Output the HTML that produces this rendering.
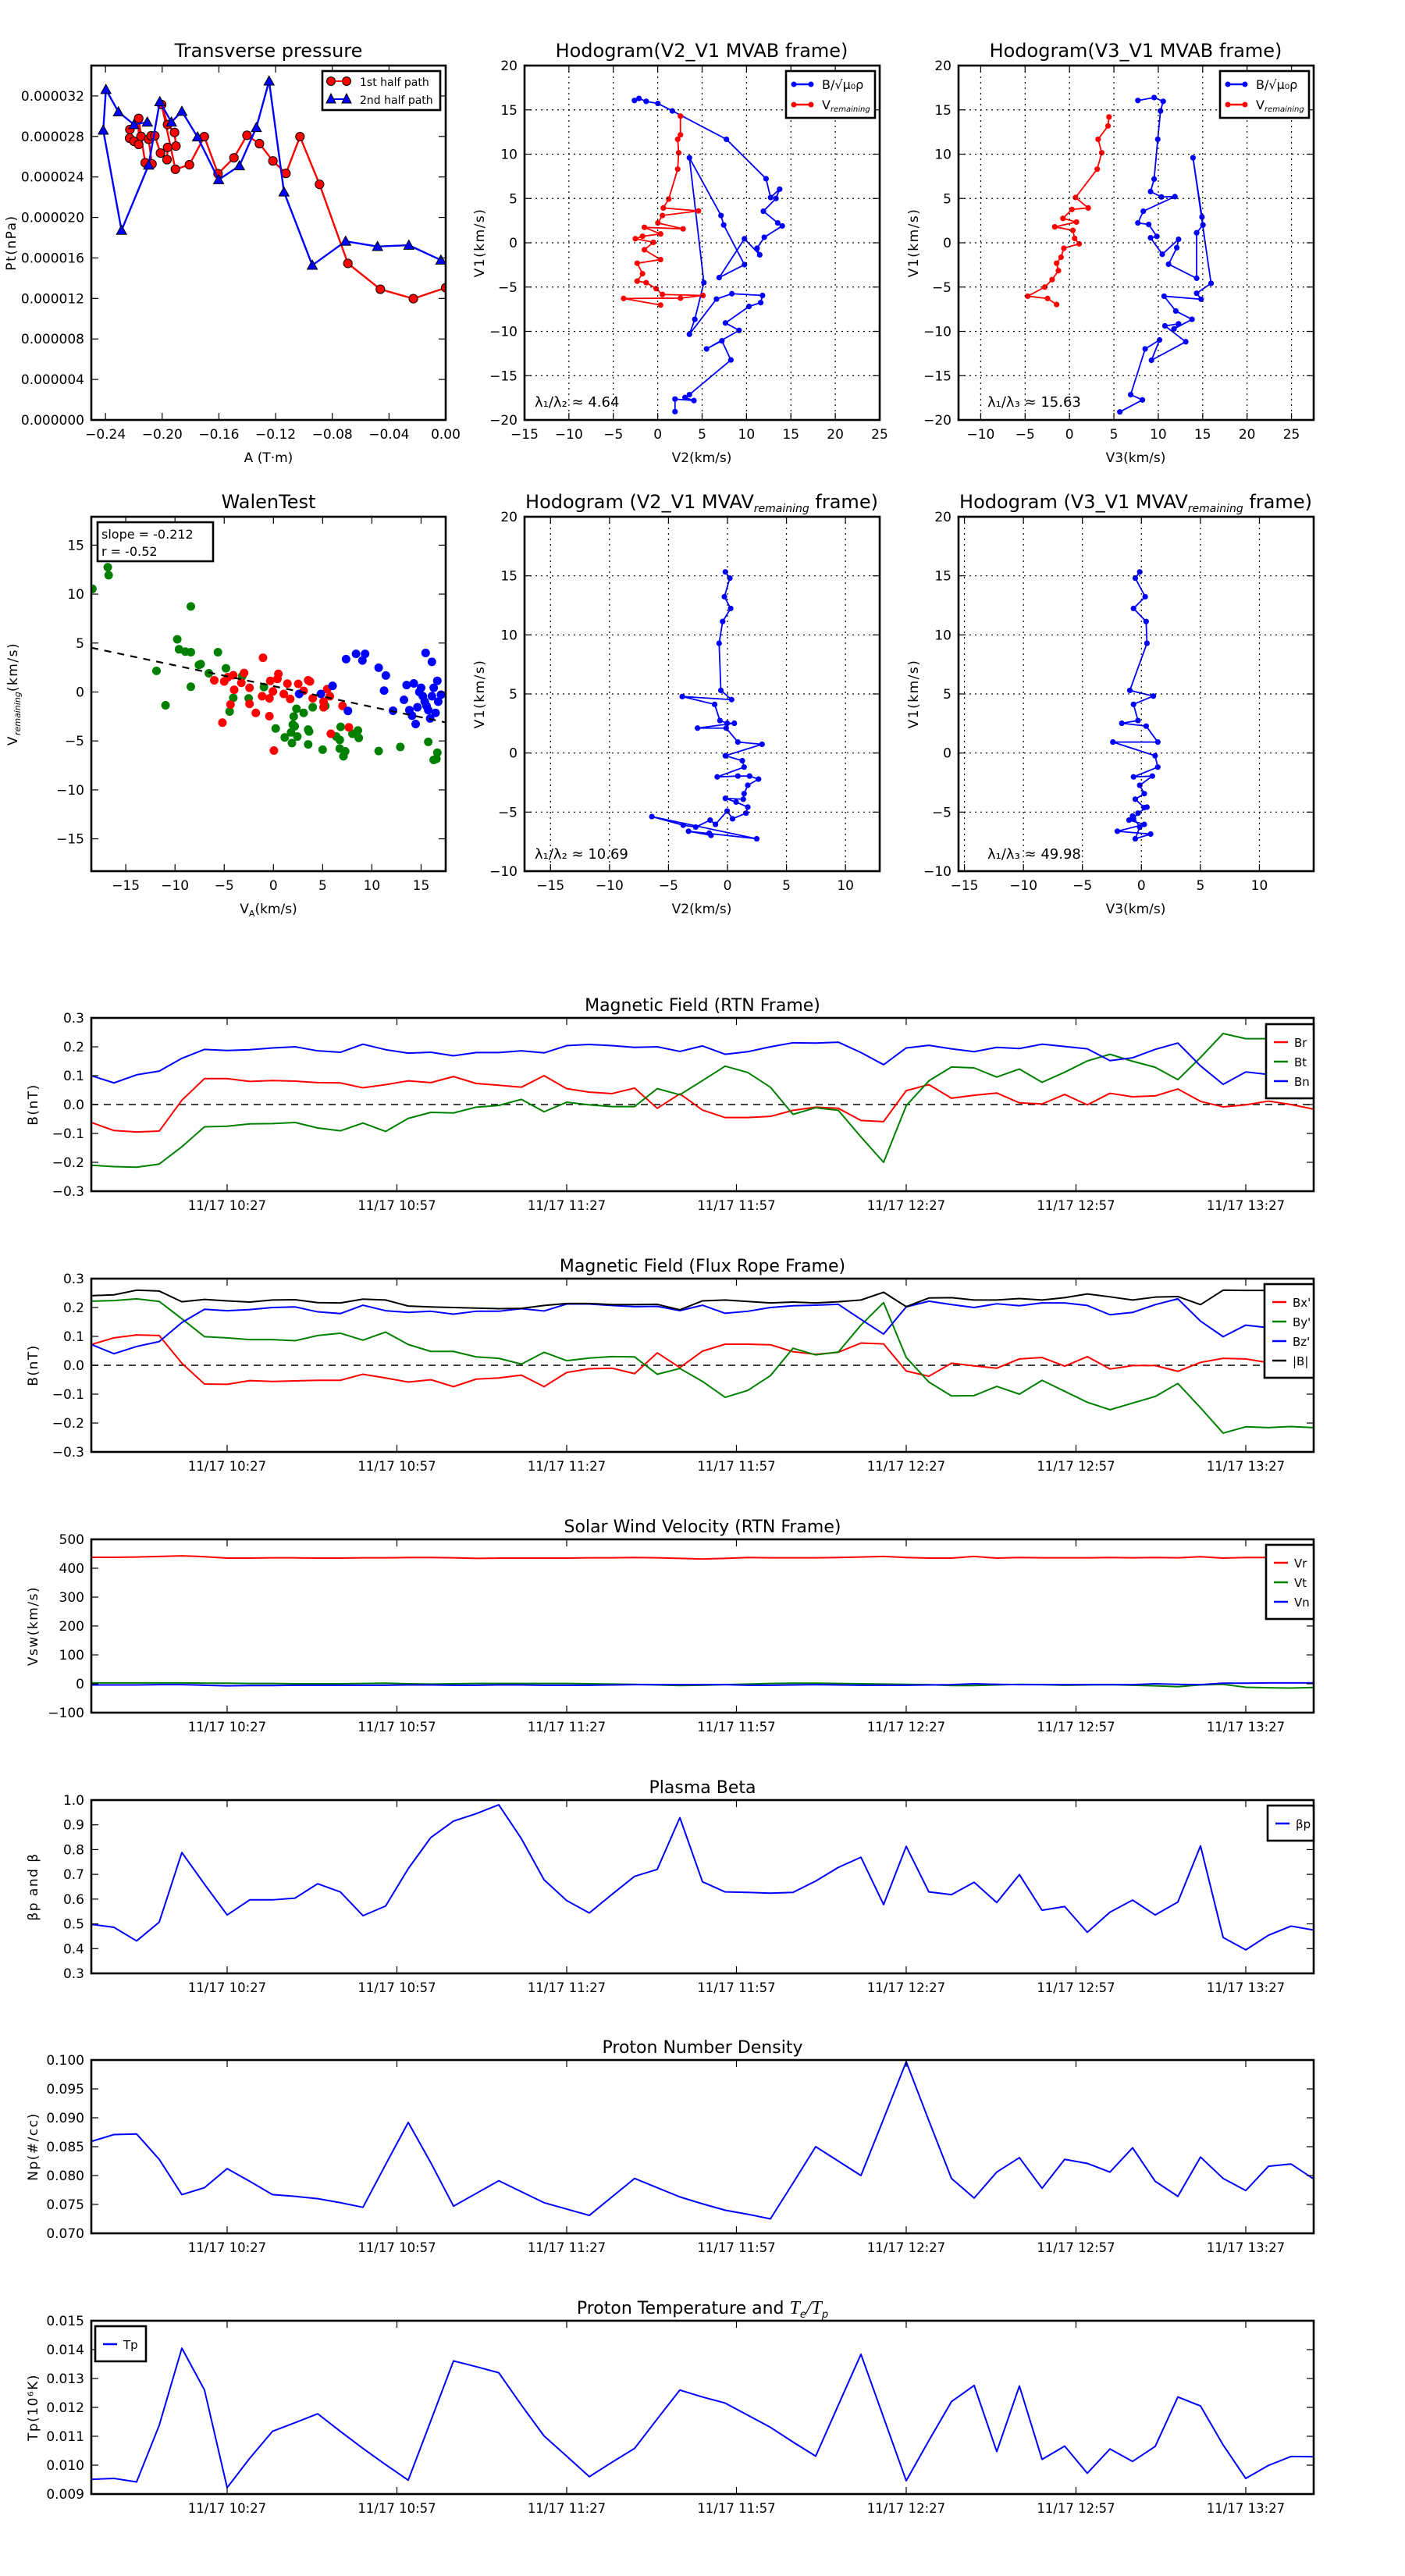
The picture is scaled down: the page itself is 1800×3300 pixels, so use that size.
<!DOCTYPE html>
<html><head><meta charset="utf-8"><title>Flux rope analysis</title>
<style>
html,body{margin:0;padding:0;background:#fff;}
svg{display:block;font-family:"DejaVu Sans","Liberation Sans",sans-serif;}
</style></head>
<body>
<svg id="fig" xmlns="http://www.w3.org/2000/svg" width="1800" height="3300" viewBox="0 0 1800 3300">
<rect x="0" y="0" width="1800" height="3300" fill="#fff"/>
<defs id="defs"></defs>
</svg>
<script>
// ---------- data: transverse pressure ----------
const ptA1 = [-0.2228,-0.2230,-0.2199,-0.2166,-0.2166,-0.2149,-0.2120,-0.2072,-0.2096,-0.2078,-0.2052,-0.2012,-0.1966,-0.1962,-0.1903,-0.1913,-0.1962,-0.2004,-0.1907,-0.1808,-0.1703,-0.1606,-0.1494,-0.1402,-0.1314,-0.1219,-0.1127,-0.1028,-0.0890,-0.0690,-0.0461,-0.0228,0.0];
const ptP1 = [2.868e-5,2.783e-5,2.752e-5,2.721e-5,2.978e-5,2.801e-5,2.540e-5,2.528e-5,2.772e-5,2.806e-5,2.806e-5,2.636e-5,2.571e-5,2.692e-5,2.705e-5,2.839e-5,2.917e-5,3.115e-5,2.476e-5,2.520e-5,2.798e-5,2.432e-5,2.589e-5,2.811e-5,2.729e-5,2.558e-5,2.435e-5,2.798e-5,2.327e-5,1.546e-5,1.291e-5,1.198e-5,1.306e-5];
const ptA2 = [-0.2105,-0.2199,-0.2309,-0.2397,-0.2416,-0.2287,-0.2096,-0.2017,-0.1935,-0.1861,-0.1751,-0.1602,-0.1455,-0.1336,-0.1246,-0.1141,-0.0941,-0.0706,-0.0481,-0.0260,-0.0034];
const ptP2 = [2.942e-5,2.917e-5,3.043e-5,3.264e-5,2.862e-5,1.873e-5,2.517e-5,3.143e-5,2.942e-5,3.048e-5,2.795e-5,2.373e-5,2.510e-5,2.888e-5,3.347e-5,2.252e-5,1.528e-5,1.765e-5,1.713e-5,1.726e-5,1.579e-5];
const ptXTicks = [-0.24,-0.20,-0.16,-0.12,-0.08,-0.04,0.00];
const ptXLabels = ["\u22120.24","\u22120.20","\u22120.16","\u22120.12","\u22120.08","\u22120.04","0.00"];
const ptYTicks = [0,4e-6,8e-6,12e-6,16e-6,20e-6,24e-6,28e-6,32e-6];
const ptYLabels = ["0.000000","0.000004","0.000008","0.000012","0.000016","0.000020","0.000024","0.000028","0.000032"];

// ---------- data: hodograms MVAB ----------
const hB2v2 = [-2.62,-2.11,-1.30,0.02,1.65,7.74,12.20,12.71,13.73,13.32,11.90,13.52,14.03,12.00,11.19,11.49,9.77,6.92,9.77,7.43,7.13,3.57,5.20,4.18,3.57,6.62,8.35,11.80,11.60,10.28,7.63,9.16,5.50,7.23,8.24,3.57,3.07,4.08,1.95,1.95];
const hB2v1 = [16.06,16.29,15.96,15.72,14.88,11.68,7.23,5.11,6.05,5.00,3.56,2.24,1.90,0.62,-0.62,-1.36,0.45,-3.93,-2.47,2.01,3.08,9.59,-4.50,-8.64,-10.33,-6.35,-5.75,-5.95,-6.76,-7.19,-9.05,-9.89,-11.98,-11.07,-13.23,-17.14,-17.47,-17.81,-17.64,-19.06];
const hV2v2 = [2.56,2.56,2.25,2.36,2.25,1.24,0.63,4.59,0.53,0.02,2.86,-1.50,0.32,-1.71,-2.52,-0.49,-1.50,0.32,-2.31,-1.71,-2.31,-1.30,-0.18,0.53,5.10,2.56,-3.84,0.32];
const hV2v1 = [14.30,12.18,11.68,10.16,8.31,4.94,3.93,3.59,3.08,2.24,1.57,1.74,1.00,0.73,0.46,0.05,-0.79,-1.90,-2.31,-3.49,-4.33,-4.50,-5.17,-5.84,-5.95,-6.25,-6.29,-7.03];
const hB3v3 = [7.70,9.53,10.55,10.25,9.94,9.53,9.13,10.35,11.87,8.31,7.70,8.92,9.84,9.13,10.45,12.28,12.08,11.16,14.32,14.32,15.03,14.92,13.91,15.94,14.32,14.82,10.65,11.97,13.80,11.77,12.28,10.75,13.09,9.23,10.14,8.52,6.89,8.21,5.67];
const hB3v1 = [16.06,16.39,15.96,14.88,11.68,7.19,5.78,5.17,5.21,3.56,2.24,2.07,0.72,0.56,-1.30,0.39,-0.56,-2.42,-4.01,1.13,2.01,2.91,9.59,-4.58,-5.70,-6.37,-6.03,-7.70,-8.64,-9.72,-9.15,-9.38,-11.17,-13.26,-10.97,-11.98,-17.14,-17.74,-19.09];
const hV3v3 = [4.45,4.34,3.22,3.63,3.12,0.68,2.11,0.27,-0.74,0.78,-1.66,0.38,0.58,1.09,-0.64,-0.95,-1.45,-1.25,-1.96,-2.78,-4.71,-2.47,-1.45];
const hV3v1 = [14.20,13.19,11.68,10.16,8.31,5.11,3.93,3.76,2.75,2.34,1.80,1.40,0.49,-0.12,-0.62,-1.63,-2.31,-3.15,-4.16,-5.00,-6.03,-6.29,-6.97];
const hodoTicks = [-20,-15,-10,-5,0,5,10,15,20];
const hodo2XTicks = [-15,-10,-5,0,5,10,15,20,25];
const hodo3XTicks = [-10,-5,0,5,10,15,20,25];

// ---------- data: Walen test ----------
const walGx = [-18.39,-16.83,-16.74,-8.39,-9.77,-9.59,-8.95,-8.39,-5.64,-7.39,-7.57,-11.88,-4.82,-6.56,-3.17,-8.39,-10.96,-4.08,-2.52,-4.45,-0.96,2.34,2.06,3.99,3.07,0.23,1.97,2.16,1.79,1.15,2.43,3.53,3.62,3.53,1.88,5.00,6.83,6.38,6.74,6.74,7.29,7.11,8.03,8.58,8.67,10.69,12.89,15.73,16.65,16.56,16.28,5.27];
const walGy = [10.53,12.75,11.93,8.74,5.38,4.36,4.13,4.07,4.07,2.85,2.76,2.16,2.42,1.91,1.62,0.54,-1.36,-0.60,-0.65,-1.99,0.51,-1.71,-2.50,-1.56,-2.13,-3.73,-3.33,-3.50,-4.13,-4.64,-4.55,-3.84,-4.04,-5.35,-5.21,-5.89,-3.56,-4.55,-4.89,-5.78,-6.06,-6.57,-4.27,-3.93,-4.69,-6.03,-5.61,-5.09,-6.20,-6.83,-6.94,-1.42];
const walRx = [-1.06,-2.98,-4.08,-4.63,-6.01,-5.00,-3.99,-3.26,-2.43,-2.43,-4.36,-1.79,-0.41,-0.05,-1.15,-0.41,0.50,0.41,1.42,2.52,3.53,3.07,1.70,3.99,5.46,5.09,5.09,5.73,7.02,5.83,7.66,0.05,-5.18,3.71,-0.32,1.05];
const walRy = [3.50,1.94,1.71,1.51,1.20,1.08,0.23,0.94,0.43,-1.22,-1.28,-2.13,-2.47,0.06,-0.43,-0.65,1.85,1.34,0.86,0.83,1.20,0.12,-0.71,-0.65,0.29,-0.99,-1.56,-0.43,-1.42,-4.27,-3.61,-5.98,-3.13,1.08,1.14,-0.20];
const walBx = [7.38,8.39,9.31,9.04,10.69,11.42,6.01,4.82,2.61,7.57,11.24,12.15,13.26,13.53,14.26,15.00,15.46,16.10,16.65,17.84,14.63,15.18,15.55,14.08,14.45,15.92,16.47,16.74,14.82,16.10,15.37,13.81,17.02,15.73,16.28];
const walBy = [3.36,3.90,3.90,3.22,2.48,1.68,0.63,-0.20,-0.20,-1.93,0.14,-1.91,-0.80,0.71,0.88,0.43,3.99,3.08,1.14,1.77,-1.56,-0.43,-1.42,-2.42,-3.27,-2.70,-2.13,-0.99,0.00,-0.43,-0.99,-1.85,-0.28,-1.85,0.43];
const walSlope = -0.212;
const walIntercept = 0.6;
const walTicks = [-15,-10,-5,0,5,10,15];

// ---------- data: hodograms MVAV ----------
const hR2v2 = [-0.18,0.20,-0.26,0.27,-0.41,-0.71,-0.56,0.35,-3.83,-1.09,-0.64,-0.03,0.58,-2.54,-0.11,0.88,2.93,-0.18,1.26,1.41,-0.87,0.88,1.87,2.63,1.72,1.41,1.34,-0.18,0.73,1.72,1.57,0.43,-0.03,-1.02,-1.47,-2.69,-3.75,-6.41,2.48,-3.30,-1.40,-1.55];
const hR2v1 = [15.33,14.81,13.23,12.24,11.13,9.29,5.30,4.52,4.78,4.12,2.75,2.52,2.52,2.11,2.11,0.93,0.74,-0.23,-0.65,-1.19,-2.02,-1.95,-1.95,-2.21,-2.73,-3.44,-3.91,-3.84,-4.15,-4.58,-5.09,-5.57,-4.91,-6.04,-5.68,-6.27,-6.11,-5.38,-7.26,-6.62,-6.97,-6.78];
const hR3v3 = [-0.14,-0.52,0.32,-0.67,0.40,0.47,-0.98,1.01,-0.67,-0.29,-1.66,0.40,1.39,-2.42,1.16,1.39,-0.67,0.93,-0.14,0.24,-0.52,0.24,0.47,-0.29,-0.67,-1.05,0.24,-2.04,0.78,-0.52,-0.14,-0.75];
const hR3v1 = [15.33,14.81,13.23,12.24,11.13,9.29,5.30,4.82,4.12,2.75,2.52,2.28,0.93,0.93,-0.23,-1.19,-2.02,-1.95,-2.73,-3.44,-3.91,-4.62,-4.58,-5.09,-5.57,-5.68,-6.04,-6.62,-6.86,-7.26,-6.27,-5.33];
const hodoR2YTicks = [-10,-5,0,5,10,15,20];
const hodoR2XTicks = [-15,-10,-5,0,5,10];

// ---------- data: time series (4-min cadence from 10:03) ----------
const tStartMin = 603; // 10:03
const tStepMin = 4;
const timeTickLabels = ["11/17 10:27","11/17 10:57","11/17 11:27","11/17 11:57","11/17 12:27","11/17 12:57","11/17 13:27"];
const timeTickMins = [627,657,687,717,747,777,807];
const Br = [-0.062,-0.09,-0.095,-0.092,0.015,0.09,0.09,0.08,0.083,0.081,0.076,0.075,0.058,0.069,0.082,0.076,0.097,0.073,0.067,0.06,0.1,0.055,0.043,0.038,0.057,-0.013,0.037,-0.019,-0.045,-0.045,-0.041,-0.02,-0.009,-0.013,-0.055,-0.059,0.048,0.069,0.022,0.032,0.04,0.006,0.002,0.035,-0.001,0.039,0.027,0.03,0.054,0.011,-0.008,-0.001,0.012,0,-0.016];
const Bt = [-0.21,-0.215,-0.217,-0.206,-0.146,-0.077,-0.075,-0.067,-0.066,-0.062,-0.081,-0.091,-0.064,-0.093,-0.048,-0.027,-0.029,-0.009,-0.003,0.018,-0.025,0.008,-0.001,-0.007,-0.007,0.055,0.034,0.083,0.133,0.111,0.06,-0.034,-0.011,-0.02,-0.112,-0.2,-0.004,0.082,0.13,0.127,0.095,0.123,0.077,0.112,0.151,0.174,0.15,0.129,0.086,0.163,0.246,0.228,0.228,0.227,0.227];
const Bn = [0.1,0.075,0.103,0.116,0.16,0.191,0.187,0.19,0.196,0.2,0.186,0.181,0.209,0.19,0.178,0.181,0.169,0.18,0.18,0.186,0.179,0.204,0.208,0.204,0.198,0.2,0.184,0.203,0.174,0.183,0.2,0.214,0.213,0.216,0.18,0.138,0.196,0.205,0.193,0.183,0.198,0.194,0.209,0.201,0.193,0.152,0.162,0.191,0.213,0.134,0.07,0.113,0.104,0.09,0.087];
const Bx = [0.072,0.095,0.105,0.103,0.007,-0.065,-0.066,-0.053,-0.056,-0.054,-0.052,-0.052,-0.031,-0.044,-0.058,-0.05,-0.074,-0.048,-0.044,-0.034,-0.074,-0.025,-0.012,-0.01,-0.029,0.043,-0.008,0.049,0.073,0.073,0.071,0.047,0.038,0.045,0.077,0.074,-0.02,-0.038,0.007,-0.002,-0.01,0.022,0.027,-0.003,0.03,-0.013,-0.001,-0.001,-0.021,0.01,0.024,0.022,0.009,0.02,0.034];
const By = [0.222,0.224,0.23,0.221,0.161,0.099,0.095,0.089,0.089,0.085,0.103,0.111,0.087,0.115,0.072,0.048,0.048,0.029,0.024,0.004,0.045,0.016,0.025,0.03,0.029,-0.031,-0.011,-0.056,-0.111,-0.087,-0.036,0.059,0.036,0.046,0.139,0.217,0.027,-0.058,-0.106,-0.105,-0.073,-0.1,-0.052,-0.09,-0.128,-0.154,-0.131,-0.108,-0.063,-0.147,-0.235,-0.213,-0.216,-0.212,-0.216];
const Bz = [0.072,0.04,0.065,0.082,0.148,0.194,0.189,0.193,0.2,0.202,0.185,0.179,0.208,0.189,0.183,0.187,0.177,0.187,0.187,0.196,0.188,0.212,0.212,0.207,0.203,0.204,0.189,0.208,0.18,0.187,0.2,0.206,0.208,0.211,0.159,0.108,0.202,0.222,0.21,0.2,0.213,0.206,0.216,0.216,0.207,0.175,0.183,0.21,0.23,0.153,0.099,0.139,0.13,0.119,0.108];
const Bmag = [0.241,0.244,0.26,0.257,0.22,0.228,0.223,0.219,0.226,0.227,0.217,0.216,0.229,0.226,0.205,0.202,0.2,0.198,0.196,0.197,0.207,0.214,0.214,0.21,0.21,0.211,0.192,0.223,0.226,0.221,0.216,0.219,0.216,0.22,0.226,0.253,0.203,0.233,0.234,0.226,0.226,0.231,0.226,0.234,0.247,0.237,0.226,0.236,0.238,0.21,0.26,0.259,0.259,0.259,0.259];
const Vr = [438,438,439,441,443,440,435,435,436,436,435,435,436,436,437,437,436,434,435,435,435,435,436,436,437,436,434,432,434,437,436,436,436,437,439,441,437,435,435,441,435,437,436,436,436,437,436,437,436,440,435,437,437,436,436];
const Vt = [3,3,3,3,3,2,2,1,1,0,0,0,1,2,0,-1,0,1,1,1,1,1,0,-1,-2,-4,-6,-5,-3,-1,1,2,2,1,0,-1,-2,-3,-6,-6,-4,-2,-3,-5,-4,-3,-5,-7,-10,-4,-2,-12,-14,-15,-13];
const Vn = [-4,-4,-4,-3,-3,-5,-7,-6,-6,-5,-5,-5,-5,-5,-4,-4,-5,-5,-4,-4,-5,-5,-5,-4,-3,-3,-3,-3,-3,-5,-5,-4,-3,-4,-5,-5,-5,-4,-3,0,-2,-3,-3,-3,-3,-3,-3,0,-2,-3,2,2,3,3,3];
const betaP = [0.498,0.486,0.431,0.507,0.788,0.66,0.536,0.597,0.597,0.604,0.662,0.629,0.533,0.572,0.723,0.849,0.915,0.945,0.981,0.844,0.678,0.594,0.544,0.619,0.692,0.72,0.929,0.67,0.629,0.627,0.624,0.627,0.673,0.728,0.769,0.578,0.813,0.629,0.618,0.668,0.586,0.699,0.555,0.57,0.466,0.547,0.596,0.536,0.588,0.815,0.445,0.395,0.454,0.491,0.475];
const Np = [0.0859,0.0871,0.0872,0.0828,0.0767,0.0779,0.0812,0.079,0.0767,0.0764,0.076,0.0753,0.0745,0.0819,0.0892,0.0822,0.0747,0.0769,0.0791,0.0772,0.0753,0.0742,0.0731,0.0763,0.0795,0.0779,0.0763,0.0751,0.074,0.0733,0.0725,0.0787,0.085,0.0825,0.08,0.0898,0.0997,0.0895,0.0795,0.0761,0.0806,0.0831,0.0778,0.0828,0.0821,0.0806,0.0848,0.079,0.0764,0.0832,0.0795,0.0774,0.0816,0.082,0.0794];
const Tp = [0.00951,0.00954,0.00942,0.01138,0.01405,0.0126,0.00922,0.01024,0.01117,0.01147,0.01178,0.01117,0.01058,0.01002,0.00948,0.01154,0.01361,0.01341,0.0132,0.01208,0.01101,0.01031,0.0096,0.0101,0.01058,0.0116,0.0126,0.01236,0.01215,0.01173,0.01131,0.0108,0.01031,0.01208,0.01384,0.01165,0.00946,0.01085,0.0122,0.01276,0.01047,0.01274,0.0102,0.01066,0.00972,0.01056,0.01013,0.01065,0.01236,0.01205,0.0107,0.00954,0.00999,0.0103,0.01029];
const bYTicks = [-0.3,-0.2,-0.1,0.0,0.1,0.2,0.3];
const bYLabels = ["\u22120.3","\u22120.2","\u22120.1","0.0","0.1","0.2","0.3"];
const vYTicks = [-100,0,100,200,300,400,500];
const vYLabels = ["\u2212100","0","100","200","300","400","500"];
const betaYTicks = [0.3,0.4,0.5,0.6,0.7,0.8,0.9,1.0];
const betaYLabels = ["0.3","0.4","0.5","0.6","0.7","0.8","0.9","1.0"];
const npYTicks = [0.070,0.075,0.080,0.085,0.090,0.095,0.100];
const npYLabels = ["0.070","0.075","0.080","0.085","0.090","0.095","0.100"];
const tpYTicks = [0.009,0.010,0.011,0.012,0.013,0.014,0.015];
const tpYLabels = ["0.009","0.010","0.011","0.012","0.013","0.014","0.015"];

// ---------- drawing helpers ----------
const NS = 'http://www.w3.org/2000/svg';
const svg = document.getElementById('fig');
const defs = document.getElementById('defs');
let clipCount = 0;
function mk(tag, attrs, parent) {
  const e = document.createElementNS(NS, tag);
  for (const k in attrs) e.setAttribute(k, attrs[k]);
  (parent || svg).appendChild(e);
  return e;
}
function txt(parent, x, y, str, size, anchor, name, extra) {
  const t = mk('text', Object.assign({x: x, y: y, 'font-size': size, 'text-anchor': anchor || 'middle', fill: '#000'}, extra || {}), parent);
  t.textContent = str;
  
  
  return t;
}
function axes(name, L, T, W, H, x0, x1, y0, y1) {
  const g = mk('g', {});
  
  
  const id = 'clip' + (clipCount++);
  const cp = mk('clipPath', {id: id}, defs);
  mk('rect', {x: L, y: T, width: W, height: H}, cp);
  const plot = mk('g', {'clip-path': 'url(#' + id + ')'}, g);
  
  
  return {g: g, plot: plot, L: L, T: T, W: W, H: H, name: name,
    sx: v => L + (v - x0) / (x1 - x0) * W,
    sy: v => T + H - (v - y0) / (y1 - y0) * H};
}
function frame(ax) {
  const r = mk('rect', {x: ax.L, y: ax.T, width: ax.W, height: ax.H, fill: 'none', stroke: '#000', 'stroke-width': 2.6}, ax.g);
  
  
}
function xTicks(ax, vals, labels, grid, fs) {
  vals.forEach((v, i) => {
    const x = ax.sx(v);
    if (x < ax.L - 0.5 || x > ax.L + ax.W + 0.5) return;
    if (grid) {
      const gl = mk('line', {x1: x, y1: ax.T, x2: x, y2: ax.T + ax.H, stroke: '#000', 'stroke-width': 1.2, 'stroke-dasharray': '2,5'}, ax.g);
      
      
    }
    const t1 = mk('line', {x1: x, y1: ax.T + ax.H, x2: x, y2: ax.T + ax.H - 9, stroke: '#000', 'stroke-width': 1.2}, ax.g);
    
    
    const t2 = mk('line', {x1: x, y1: ax.T, x2: x, y2: ax.T + 9, stroke: '#000', 'stroke-width': 1.2}, ax.g);
    
    
    if (labels) txt(ax.g, x, ax.T + ax.H + 24, labels[i], fs || 17, 'middle', 'x-tick-label');
  });
}
function yTicks(ax, vals, labels, grid, fs) {
  vals.forEach((v, i) => {
    const y = ax.sy(v);
    if (y < ax.T - 0.5 || y > ax.T + ax.H + 0.5) return;
    if (grid) {
      const gl = mk('line', {x1: ax.L, y1: y, x2: ax.L + ax.W, y2: y, stroke: '#000', 'stroke-width': 1.2, 'stroke-dasharray': '2,5'}, ax.g);
      
      
    }
    const t1 = mk('line', {x1: ax.L, y1: y, x2: ax.L + 9, y2: y, stroke: '#000', 'stroke-width': 1.2}, ax.g);
    
    
    const t2 = mk('line', {x1: ax.L + ax.W, y1: y, x2: ax.L + ax.W - 9, y2: y, stroke: '#000', 'stroke-width': 1.2}, ax.g);
    
    
    txt(ax.g, ax.L - 9, y + 6, labels ? labels[i] : String(v).replace('-', '\u2212'), fs || 17, 'end', 'y-tick-label');
  });
}
function line(ax, xs, ys, color, name, w) {
  const pts = xs.map((x, i) => ax.sx(x).toFixed(2) + ',' + ax.sy(ys[i]).toFixed(2)).join(' ');
  const p = mk('polyline', {points: pts, fill: 'none', stroke: color, 'stroke-width': w || 2, 'stroke-linejoin': 'round'}, ax.plot);
  
  
  return p;
}
function dots(ax, xs, ys, color, name, r, edge) {
  const g = mk('g', {}, ax.plot);
  
  
  xs.forEach((x, i) => {
    const c = mk('circle', {cx: ax.sx(x), cy: ax.sy(ys[i]), r: r, fill: color, stroke: edge || color, 'stroke-width': edge ? 1 : 0}, g);
    
    
  });
}
function tris(ax, xs, ys, color, name, s) {
  const g = mk('g', {}, ax.plot);
  
  
  xs.forEach((x, i) => {
    const cx = ax.sx(x), cy = ax.sy(ys[i]);
    const p = mk('polygon', {points: cx + ',' + (cy - s) + ' ' + (cx - s) + ',' + (cy + s * 0.8) + ' ' + (cx + s) + ',' + (cy + s * 0.8), fill: color, stroke: '#000', 'stroke-width': 1}, g);
    
    
  });
}
function ylabel(x, y, str, name, size) {
  const t = txt(svg, x, y, str, size || 17, 'middle', name, {transform: 'rotate(-90 ' + x + ' ' + y + ')', 'letter-spacing': '1.5'});
  return t;
}
function legendBox(x, y, w, h, name) {
  const g = mk('g', {});
  
  
  const r = mk('rect', {x: x, y: y, width: w, height: h, fill: '#fff', stroke: '#000', 'stroke-width': 2.6}, g);
  
  
  return g;
}
function legLine(g, x, y, color, label, name, marks) {
  const l = mk('line', {x1: x, y1: y, x2: x + 22, y2: y, stroke: color, 'stroke-width': 2.4}, g);
  
  
  if (marks) {
    [x, x + 22].forEach(mx => {
      const c = mk('circle', {cx: mx, cy: y, r: 3.5, fill: color}, g);
      
      
    });
  }
  return txt(g, x + 36, y + 6, label, 16, 'start', name + '-label');
}

// ---------- Row 1 ----------
const a1 = axes('transverse-pressure-chart', 117, 84, 454, 454, -0.25, 0, 0, 3.5e-5);
line(a1, ptA1, ptP1, '#f00', 'first-half-path-line', 2.4);
dots(a1, ptA1, ptP1, '#f00', 'first-half-path-points', 5.6, '#000');
line(a1, ptA2, ptP2, '#00f', 'second-half-path-line', 2.4);
tris(a1, ptA2, ptP2, '#00f', 'second-half-path-points', 6.5);
xTicks(a1, ptXTicks, ptXLabels, false);
yTicks(a1, ptYTicks, ptYLabels, false);
frame(a1);
txt(svg, 344, 73, 'Transverse pressure', 24, 'middle', 'pressure-chart-title');
txt(svg, 344, 592, 'A (T\u00b7m)', 17, 'middle', 'pressure-x-axis-title');
ylabel(20, 311, 'Pt(nPa)', 'pressure-y-axis-title');
{
  const lg = legendBox(413, 91, 151, 50, 'pressure-legend');
  const l1 = mk('line', {x1: 424, y1: 104, x2: 444, y2: 104, stroke: '#f00', 'stroke-width': 2}, lg);
  
  
  [424, 444].forEach(cx => { const c = mk('circle', {cx: cx, cy: 104, r: 5.5, fill: '#f00', stroke: '#000', 'stroke-width': 1}, lg);   });
  txt(lg, 461, 110, '1st half path', 14, 'start', 'legend-first-half-label');
  const l2 = mk('line', {x1: 424, y1: 127, x2: 444, y2: 127, stroke: '#00f', 'stroke-width': 2}, lg);
  
  
  [424, 444].forEach(cx => { const p = mk('polygon', {points: cx + ',' + 120 + ' ' + (cx - 6) + ',' + 132 + ' ' + (cx + 6) + ',' + 132, fill: '#00f', stroke: '#000', 'stroke-width': 1}, lg);   });
  txt(lg, 461, 133, '2nd half path', 14, 'start', 'legend-second-half-label');
}

function hodoLegend(x, name) {
  const lg = legendBox(x, 91, 114, 60, name);
  legLine(lg, x + 10, 108, '#00f', 'B/\u221A\u03BC\u2080\u03C1', name + '-b-entry', true);
  legLine(lg, x + 10, 134, '#f00', 'V_remaining', name + '-v-entry', true);
  const t = lg.lastChild;
  t.textContent = 'V';
  const s = mk('tspan', {'font-size': 10, 'font-style': 'italic', dy: 3}, t);
  s.textContent = 'remaining';
  
  
}

const a2 = axes('hodogram-v2-v1-mvab', 672, 84, 455, 454, -15, 25, -20, 20);
xTicks(a2, hodo2XTicks, hodo2XTicks.map(v => String(v).replace('-', '\u2212')), true);
yTicks(a2, hodoTicks, hodoTicks.map(v => String(v).replace('-', '\u2212')), true);
line(a2, hB2v2, hB2v1, '#00f', 'b-hodogram-line', 1.8);
dots(a2, hB2v2, hB2v1, '#00f', 'b-hodogram-points', 3.6);
line(a2, hV2v2, hV2v1, '#f00', 'v-hodogram-line', 1.8);
dots(a2, hV2v2, hV2v1, '#f00', 'v-hodogram-points', 3.6);
frame(a2);
hodoLegend(1007, 'hodogram-v2-legend');
txt(svg, 899, 73, 'Hodogram(V2_V1 MVAB frame)', 24, 'middle', 'hodogram-v2-title');
txt(svg, 899, 592, 'V2(km/s)', 17, 'middle', 'hodogram-v2-x-axis-title');
ylabel(620, 311, 'V1(km/s)', 'hodogram-v2-y-axis-title');
txt(svg, 685, 521, '\u03BB\u2081/\u03BB\u2082 \u2248 4.64', 18, 'start', 'hodogram-v2-eigen-ratio');

const a3 = axes('hodogram-v3-v1-mvab', 1228, 84, 455, 454, -12.5, 27.5, -20, 20);
xTicks(a3, hodo3XTicks, hodo3XTicks.map(v => String(v).replace('-', '\u2212')), true);
yTicks(a3, hodoTicks, hodoTicks.map(v => String(v).replace('-', '\u2212')), true);
line(a3, hB3v3, hB3v1, '#00f', 'b-hodogram-line', 1.8);
dots(a3, hB3v3, hB3v1, '#00f', 'b-hodogram-points', 3.6);
line(a3, hV3v3, hV3v1, '#f00', 'v-hodogram-line', 1.8);
dots(a3, hV3v3, hV3v1, '#f00', 'v-hodogram-points', 3.6);
frame(a3);
hodoLegend(1563, 'hodogram-v3-legend');
txt(svg, 1455, 73, 'Hodogram(V3_V1 MVAB frame)', 24, 'middle', 'hodogram-v3-title');
txt(svg, 1455, 592, 'V3(km/s)', 17, 'middle', 'hodogram-v3-x-axis-title');
ylabel(1176, 311, 'V1(km/s)', 'hodogram-v3-y-axis-title');
txt(svg, 1265, 521, '\u03BB\u2081/\u03BB\u2083 \u2248 15.63', 18, 'start', 'hodogram-v3-eigen-ratio');

// ---------- Row 2 ----------
const w1 = axes('walen-test-chart', 117, 662, 454, 454, -18.5, 17.5, -18.3, 17.9);
dots(w1, walGx, walGy, '#008000', 'walen-green-points', 5.5);
dots(w1, walRx, walRy, '#f00', 'walen-red-points', 5.5);
dots(w1, walBx, walBy, '#00f', 'walen-blue-points', 5.5);
{
  const fx = [-18.5, 17.5];
  const fy = fx.map(v => walSlope * v + walIntercept);
  const fl = line(w1, fx, fy, '#000', 'walen-fit-line', 2.2);
  fl.setAttribute('stroke-dasharray', '9,8');
}
xTicks(w1, walTicks, walTicks.map(v => String(v).replace('-', '\u2212')), false);
yTicks(w1, walTicks, walTicks.map(v => String(v).replace('-', '\u2212')), false);
frame(w1);
{
  const g = legendBox(125, 669, 148, 50, 'walen-stats-box');
  txt(g, 130, 690, 'slope = -0.212', 16, 'start', 'walen-slope-text');
  txt(g, 130, 712, 'r = -0.52', 16, 'start', 'walen-r-text');
}
txt(svg, 344, 651, 'WalenTest', 24, 'middle', 'walen-title');
{
  const t = txt(svg, 344, 1170, 'V', 17, 'middle', 'walen-x-axis-title');
  const s = mk('tspan', {'font-size': 11, dy: 4}, t); s.textContent = 'A';
   
  const s2 = mk('tspan', {dy: -4}, t); s2.textContent = '(km/s)';
   
}
{
  const t = ylabel(22, 889, 'V', 'walen-y-axis-title');
  const s = mk('tspan', {'font-size': 11, 'font-style': 'italic', dy: 4, 'letter-spacing': 0}, t); s.textContent = 'remaining';
   
  const s2 = mk('tspan', {dy: -4}, t); s2.textContent = '(km/s)';
   
}

function mvavTitle(x, str, name) {
  const t = txt(svg, x, 651, str, 24, 'middle', name);
  const s = mk('tspan', {'font-size': 14, 'font-style': 'italic', dy: 5}, t); s.textContent = 'remaining';
   
  const s2 = mk('tspan', {dy: -5}, t); s2.textContent = ' frame)';
   
}
const r2 = axes('hodogram-v2-v1-mvav', 672, 662, 455, 454, -17.2, 12.9, -10, 20);
xTicks(r2, hodoR2XTicks, hodoR2XTicks.map(v => String(v).replace('-', '\u2212')), true);
yTicks(r2, hodoR2YTicks, hodoR2YTicks.map(v => String(v).replace('-', '\u2212')), true);
line(r2, hR2v2, hR2v1, '#00f', 'mvav-v2-line', 1.8);
dots(r2, hR2v2, hR2v1, '#00f', 'mvav-v2-points', 3.6);
frame(r2);
mvavTitle(899, 'Hodogram (V2_V1 MVAV', 'hodogram-mvav-v2-title');
txt(svg, 899, 1170, 'V2(km/s)', 17, 'middle', 'mvav-v2-x-axis-title');
ylabel(620, 889, 'V1(km/s)', 'mvav-v2-y-axis-title');
txt(svg, 685, 1100, '\u03BB\u2081/\u03BB\u2082 \u2248 10.69', 18, 'start', 'mvav-v2-eigen-ratio');

const r3 = axes('hodogram-v3-v1-mvav', 1228, 662, 455, 454, -15.5, 14.6, -10, 20);
xTicks(r3, hodoR2XTicks, hodoR2XTicks.map(v => String(v).replace('-', '\u2212')), true);
yTicks(r3, hodoR2YTicks, hodoR2YTicks.map(v => String(v).replace('-', '\u2212')), true);
line(r3, hR3v3, hR3v1, '#00f', 'mvav-v3-line', 1.8);
dots(r3, hR3v3, hR3v1, '#00f', 'mvav-v3-points', 3.6);
frame(r3);
mvavTitle(1455, 'Hodogram (V3_V1 MVAV', 'hodogram-mvav-v3-title');
txt(svg, 1455, 1170, 'V3(km/s)', 17, 'middle', 'mvav-v3-x-axis-title');
ylabel(1176, 889, 'V1(km/s)', 'mvav-v3-y-axis-title');
txt(svg, 1265, 1100, '\u03BB\u2081/\u03BB\u2083 \u2248 49.98', 18, 'start', 'mvav-v3-eigen-ratio');

// ---------- Time series ----------
const tMins = Br.map((_, i) => tStartMin + i * tStepMin);
const tEnd = tStartMin + (Br.length - 1) * tStepMin;
const TS_L = 117, TS_W = 1566, TS_H = 222;
const tops = [1304, 1638, 1972, 2306, 2639, 2973];
function tsAxes(name, top, y0, y1, yt, yl, title, ylab) {
  const ax = axes(name, TS_L, top, TS_W, TS_H, tStartMin, tEnd, y0, y1);
  xTicks(ax, timeTickMins, timeTickLabels, false, 16.5);
  yTicks(ax, yt, yl, false, 17);
  txt(svg, TS_L + TS_W / 2, top - 9, title, 22, 'middle', name + '-title');
  ylabel(48, top + TS_H / 2, ylab, name + '-y-axis-title');
  return ax;
}
function zeroLine(ax) {
  const z = line(ax, [tStartMin, tEnd], [0, 0], '#000', 'zero-reference-line', 1.6);
  z.setAttribute('stroke-dasharray', '9,7');
}
function tsLegend(x, y, w, entries, name) {
  const g = legendBox(x, y, w, 20 + entries.length * 25, name);
  entries.forEach((e, i) => legLine(g, x + 10, y + 23 + i * 25, e[0], e[1], name + '-' + e[1].replace(/[^A-Za-z]/g, '').toLowerCase() + '-entry'));
  g.querySelectorAll('line').forEach(l => { l.setAttribute('x2', Number(l.getAttribute('x1')) + 18); });
  g.querySelectorAll('text').forEach(t => { t.setAttribute('x', x + 36); t.setAttribute('font-size', 15); });
  return g;
}

const m1 = tsAxes('magnetic-field-rtn-chart', tops[0], -0.3, 0.3, bYTicks, bYLabels, 'Magnetic Field (RTN Frame)', 'B(nT)');
zeroLine(m1);
line(m1, tMins, Br, '#f00', 'br-line');
line(m1, tMins, Bt, '#008000', 'bt-line');
line(m1, tMins, Bn, '#00f', 'bn-line');
frame(m1);
tsLegend(1622, tops[0] + 8, 61, [['#f00', 'Br'], ['#008000', 'Bt'], ['#00f', 'Bn']], 'rtn-legend');

const m2 = tsAxes('magnetic-field-flux-rope-chart', tops[1], -0.3, 0.3, bYTicks, bYLabels, 'Magnetic Field (Flux Rope Frame)', 'B(nT)');
zeroLine(m2);
line(m2, tMins, Bx, '#f00', 'bx-line');
line(m2, tMins, By, '#008000', 'by-line');
line(m2, tMins, Bz, '#00f', 'bz-line');
line(m2, tMins, Bmag, '#000', 'bmag-line');
frame(m2);
tsLegend(1620, tops[1] + 7, 63, [['#f00', "Bx'"], ['#008000', "By'"], ['#00f', "Bz'"], ['#000', '|B|']], 'flux-rope-legend');

const m3 = tsAxes('solar-wind-velocity-chart', tops[2], -100, 500, vYTicks, vYLabels, 'Solar Wind Velocity (RTN Frame)', 'Vsw(km/s)');
line(m3, tMins, Vr, '#f00', 'vr-line');
line(m3, tMins, Vt, '#008000', 'vt-line');
line(m3, tMins, Vn, '#00f', 'vn-line');
frame(m3);
tsLegend(1622, tops[2] + 7, 61, [['#f00', 'Vr'], ['#008000', 'Vt'], ['#00f', 'Vn']], 'velocity-legend');

const m4 = tsAxes('plasma-beta-chart', tops[3], 0.3, 1.0, betaYTicks, betaYLabels, 'Plasma Beta', '\u03B2p and \u03B2');
line(m4, tMins, betaP, '#00f', 'beta-p-line');
frame(m4);
tsLegend(1624, tops[3] + 7, 59, [['#00f', '\u03B2p']], 'beta-legend');

const m5 = tsAxes('proton-density-chart', tops[4], 0.070, 0.100, npYTicks, npYLabels, 'Proton Number Density', 'Np(#/cc)');
line(m5, tMins, Np, '#00f', 'np-line');
frame(m5);

const m6 = tsAxes('proton-temperature-chart', tops[5], 0.009, 0.015, tpYTicks, tpYLabels, 'Proton Temperature and ', 'Tp(10\u2076K)');
{
  const t = svg.lastChild.previousSibling;
  const a = mk('tspan', {'font-family': '"Liberation Serif", serif', 'font-style': 'italic', 'font-size': 24}, t); a.textContent = 'T';
   
  const b = mk('tspan', {'font-size': 13, 'font-style': 'italic', dy: 5}, t); b.textContent = 'e';
   
  const c = mk('tspan', {'font-family': '"Liberation Serif", serif', 'font-style': 'italic', 'font-size': 24, dy: -5}, t); c.textContent = '/T';
   
  const d = mk('tspan', {'font-size': 13, 'font-style': 'italic', dy: 5}, t); d.textContent = 'p';
   
}
line(m6, tMins, Tp, '#00f', 'tp-line');
frame(m6);
tsLegend(122, tops[5] + 7, 65, [['#00f', 'Tp']], 'temperature-legend');
</script>
</body></html>
